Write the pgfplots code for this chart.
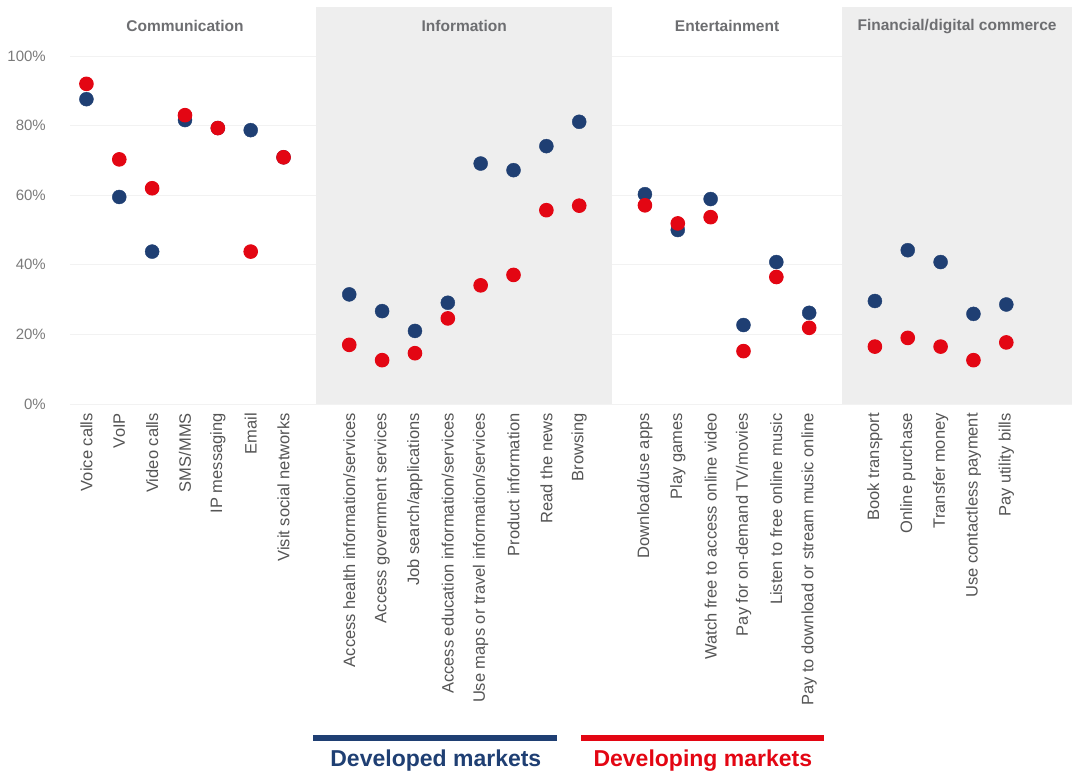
\documentclass[border=0pt]{standalone}
\usepackage{fontspec}
\setmainfont{Liberation Sans}
\usepackage{pgfplots}
\pgfplotsset{compat=1.18}
\definecolor{navy}{HTML}{1F3F73}
\definecolor{devred}{HTML}{E30613}
\definecolor{panel}{HTML}{EEEEEE}
\definecolor{hdr}{HTML}{6D6E71}
\definecolor{lbl}{HTML}{555555}
\definecolor{ylbl}{HTML}{7A7A7A}

% share of users doing each activity, developed vs developing markets (%)
\pgfplotstableread{
x   dev   devg
0   87.6  92.0
1   59.5  70.3
2   43.8  62.0
3   81.6  83.0
4   79.3  79.3
5   78.7  43.8
6   70.9  70.9
8   31.5  17.0
9   26.7  12.6
10  21.0  14.6
11  29.1  24.6
12  69.1  34.1
13  67.2  37.1
14  74.1  55.7
15  81.1  57.0
17  60.3  57.1
18  50.0  51.9
19  58.9  53.7
20  22.7  15.2
21  40.8  36.5
22  26.2  21.9
24  29.6  16.5
25  44.2  19.0
26  40.8  16.5
27  25.9  12.6
28  28.6  17.7
}\usage

\begin{document}
\begin{tikzpicture}
\begin{axis}[
  width=1002pt, height=396.7pt, scale only axis,
  xmin=-0.5, xmax=30, ymin=0, ymax=114,
  clip=false,
  axis line style={draw=none},
  major tick length=0pt,
  ytick={0,20,40,60,80,100},
  yticklabels={0\%,20\%,40\%,60\%,80\%,100\%},
  ymajorgrids, grid style={color=black!5, line width=0.8pt},
  xtick={0,1,2,3,4,5,6,8,9,10,11,12,13,14,15,17,18,19,20,21,22,24,25,26,27,28},
  xticklabels={Voice calls, VoIP, Video calls, SMS/MMS, IP messaging, Email, Visit social networks,
    Access health information/services, Access government services, Job search/applications,
    Access education information/services, Use maps or travel information/services,
    Product information, Read the news, Browsing,
    Download/use apps, Play games, Watch free to access online video, Pay for on-demand TV/movies,
    Listen to free online music, Pay to download or stream music online,
    Book transport, Online purchase, Transfer money, Use contactless payment, Pay utility bills},
  xticklabel style={rotate=90, anchor=east, inner sep=0pt, font=\fontsize{16.5}{18}\selectfont, text=lbl},
  yticklabel style={anchor=east, inner sep=0pt, font=\fontsize{15}{17}\selectfont, text=ylbl},
  xticklabel shift=9pt, yticklabel shift=24pt,
]
\addplot[draw=none, fill=panel] coordinates {(7,114) (16,114)} \closedcycle;
\addplot[draw=none, fill=panel] coordinates {(23,114) (30,114)} \closedcycle;

\addplot[only marks, mark=*, mark size=7pt, color=navy] table[x=x, y=dev] {\usage};
\addplot[only marks, mark=*, mark size=6.8pt, color=devred, mark options={line width=1pt}] table[x=x, y=devg] {\usage};

\node[font=\bfseries\fontsize{15.5}{17}\selectfont, text=hdr] at (axis cs:3,108.5) {Communication};
\node[font=\bfseries\fontsize{15.5}{17}\selectfont, text=hdr] at (axis cs:11.5,108.5) {Information};
\node[font=\bfseries\fontsize{15.5}{17}\selectfont, text=hdr] at (axis cs:19.5,108.5) {Entertainment};
\node[font=\bfseries\fontsize{15.5}{17}\selectfont, text=hdr] at (axis cs:26.5,108.5) {Financial/digital commerce};

\draw[navy, line width=6pt] (axis cs:6.897,-95.9) -- (axis cs:14.325,-95.9);
\draw[devred, line width=6pt] (axis cs:15.056,-95.9) -- (axis cs:22.453,-95.9);
\node[anchor=base, font=\bfseries\fontsize{23}{25}\selectfont, text=navy] at (axis cs:10.636,-104.3) {Developed markets};
\node[anchor=base, font=\bfseries\fontsize{23}{25}\selectfont, text=devred] at (axis cs:18.763,-104.3) {Developing markets};

\coordinate (TL) at (axis cs:-2.631,116.1);
\coordinate (BR) at (axis cs:30,-106.0);
\end{axis}
\pgfresetboundingbox
\path[use as bounding box] (TL) rectangle (BR);
\end{tikzpicture}
\end{document}
